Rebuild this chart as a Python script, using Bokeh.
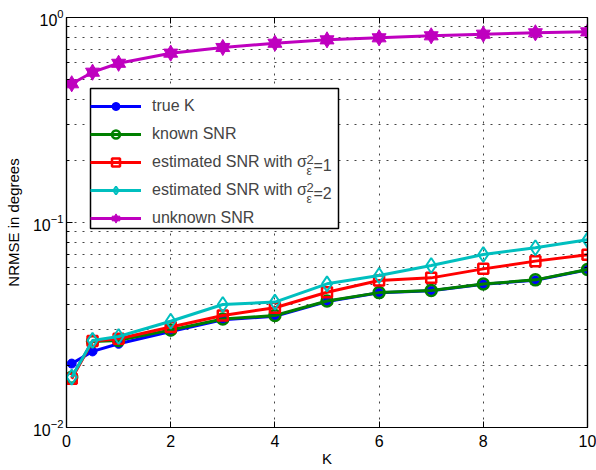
from bokeh.plotting import figure
from bokeh.models import (Range1d, LinearAxis, LogAxis, FixedTicker, Legend,
                          LegendItem, Label, CustomJSTickFormatter, BoxAnnotation)
from bokeh.embed import file_html
from bokeh.resources import INLINE

# ---- data ----
K = [0.1, 0.5, 1, 2, 3, 4, 5, 6, 7, 8, 9, 10]
true_k = [0.0205, 0.0235, 0.0256, 0.0294, 0.0335, 0.0349, 0.0412, 0.0454, 0.0465, 0.0500, 0.0523, 0.0588]
known_snr = [0.0176, 0.0263, 0.0266, 0.0299, 0.0338, 0.0352, 0.0414, 0.0455, 0.0466, 0.0501, 0.0525, 0.0590]
est_snr_1 = [0.0173, 0.0264, 0.0271, 0.0309, 0.0352, 0.0384, 0.0457, 0.0521, 0.0537, 0.0594, 0.0648, 0.0696]
est_snr_2 = [0.0176, 0.0266, 0.0278, 0.0330, 0.0398, 0.0409, 0.0502, 0.0551, 0.0617, 0.0698, 0.0753, 0.0823]
unknown_snr = [0.475, 0.541, 0.598, 0.670, 0.714, 0.749, 0.778, 0.796, 0.814, 0.829, 0.842, 0.851]

x_ticks = [0, 2, 4, 6, 8, 10]
y_major = [0.01, 0.1, 1]
y_minor = [m * 10.0 ** e for e in (-2, -1) for m in range(2, 10)]

FONT = "Liberation Sans"
BLUE, GREEN, RED, CYAN, MAG = "#0000ff", "#008000", "#ff0000", "#00bfbf", "#bf00bf"

W, H = 596, 470
FL, FT, FB = 66, 17, 427   # frame left/top/bottom in canvas px
p = figure(width=W, height=H, y_axis_type="log",
           x_range=Range1d(0, 10), y_range=Range1d(0.01, 1),
           output_backend="svg", toolbar_location=None,
           min_border_left=FL, min_border_right=9, min_border_top=FT, min_border_bottom=H - FB,
           background_fill_color="white", border_fill_color="white")
p.outline_line_color = "black"
p.outline_line_width = 1.2

xt = FixedTicker(ticks=x_ticks)
yt = FixedTicker(ticks=y_major, minor_ticks=y_minor)
p.xaxis.ticker = xt
p.yaxis.ticker = yt
p.xgrid.ticker = xt
p.ygrid.ticker = yt

for ax in (p.xaxis[0], p.yaxis[0]):
    ax.axis_line_color = "black"
    ax.axis_line_width = 1.2
    ax.major_tick_in = 6
    ax.major_tick_out = 0
    ax.minor_tick_in = 3
    ax.minor_tick_out = 0
    ax.major_tick_line_color = "black"
    ax.minor_tick_line_color = "black"
    ax.major_label_text_font = FONT
    ax.major_label_text_font_size = "16px"
    ax.major_label_text_color = "black"
    ax.axis_label_text_font = FONT
    ax.axis_label_text_font_size = "15px"
    ax.axis_label_text_font_style = "normal"
    ax.axis_label_text_color = "black"

p.xaxis.minor_tick_in = 0
p.xaxis.axis_label = "K"
p.xaxis.major_label_standoff = 7
p.xaxis.axis_label_standoff = 0
p.yaxis.axis_label = "NRMSE in degrees"
p.yaxis.major_label_standoff = 3
p.yaxis.axis_label_standoff = 8

top = LinearAxis(ticker=xt, formatter=CustomJSTickFormatter(code="return ''"), major_label_standoff=0,
                 major_tick_in=6, major_tick_out=0, minor_tick_in=0, minor_tick_out=0,
                 axis_line_color="black", axis_line_width=1.2)
right = LogAxis(ticker=yt, formatter=CustomJSTickFormatter(code="return ''"), major_label_standoff=0,
                major_tick_in=6, major_tick_out=0, minor_tick_in=3, minor_tick_out=0,
                axis_line_color="black", axis_line_width=1.2)
p.add_layout(top, "above")
p.add_layout(right, "right")

for g in (p.xgrid[0], p.ygrid[0]):
    g.grid_line_color = "#444444"
    g.grid_line_dash = "2 6"
    g.grid_line_width = 1
p.ygrid.minor_grid_line_color = "#444444"
p.ygrid.minor_grid_line_dash = "2 6"
p.ygrid.minor_grid_line_width = 1

LW = 3
lb = p.line(K, true_k, line_color=BLUE, line_width=LW)
sb = p.scatter(K, true_k, marker="circle", size=9, fill_color=BLUE, line_color=BLUE)
lg = p.line(K, known_snr, line_color=GREEN, line_width=LW)
sg = p.scatter(K, known_snr, marker="circle", size=11, fill_color=None, line_color=GREEN, line_width=2.5)
lr = p.line(K, est_snr_1, line_color=RED, line_width=LW)
sr = p.scatter(K, est_snr_1, marker="square", size=10, fill_color=None, line_color=RED, line_width=2.5)
lc = p.line(K, est_snr_2, line_color=CYAN, line_width=LW)
sc = p.scatter(K, est_snr_2, marker="diamond", size=15, fill_color=None, line_color=CYAN, line_width=2)
lm = p.line(K, unknown_snr, line_color=MAG, line_width=LW)
sm1 = p.scatter(K, unknown_snr, marker="triangle", size=14, fill_color=MAG, line_color=MAG)
sm2 = p.scatter(K, unknown_snr, marker="inverted_triangle", size=14, fill_color=MAG, line_color=MAG)

# legend frame (white box with black border), drawn beneath a transparent legend
LEG_L, LEG_R, LEG_T, LEG_B = 90, 338, 88, 228   # canvas px
p.add_layout(BoxAnnotation(left=LEG_L - FL, right=LEG_R - FL, top=FB - LEG_T, bottom=FB - LEG_B,
                           left_units="screen", right_units="screen",
                           top_units="screen", bottom_units="screen",
                           fill_color="white", fill_alpha=1.0,
                           line_color="black", line_width=1.5, line_alpha=1.0))

legend = Legend(items=[
    LegendItem(label="true K", renderers=[lb, sb]),
    LegendItem(label="known SNR", renderers=[lg, sg]),
    LegendItem(label="estimated SNR with σ", renderers=[lr, sr]),
    LegendItem(label="estimated SNR with σ", renderers=[lc, sc]),
    LegendItem(label="unknown SNR", renderers=[lm, sm1, sm2]),
], location=(LEG_L - FL, FB - LEG_B), label_text_font=FONT, label_text_font_size="16px",
    glyph_width=51, glyph_height=20, label_height=20, label_standoff=11,
    padding=6, spacing=8, margin=0, label_width=174,
    border_line_color=None, background_fill_alpha=0.0)
p.add_layout(legend)

# sup/sub-scripts for sigma_epsilon^2 (screen px measured from the frame's bottom-left)
for center, val in ((160, "=1"), (188, "=2")):
    base = center + 5
    p.add_layout(Label(x=306 - FL, y=FB - (base - 6), x_units="screen", y_units="screen", text="2",
                       text_font=FONT, text_font_size="13px", text_baseline="alphabetic",
                       level="overlay"))
    p.add_layout(Label(x=306 - FL, y=FB - (base + 5.5), x_units="screen", y_units="screen", text="ε",
                       text_font=FONT, text_font_size="12px", text_baseline="alphabetic",
                       level="overlay"))
    p.add_layout(Label(x=313 - FL, y=FB - base, x_units="screen", y_units="screen", text=val,
                       text_font=FONT, text_font_size="16px", text_baseline="alphabetic",
                       level="overlay"))

open("out.html", "w").write(file_html(p, INLINE))
